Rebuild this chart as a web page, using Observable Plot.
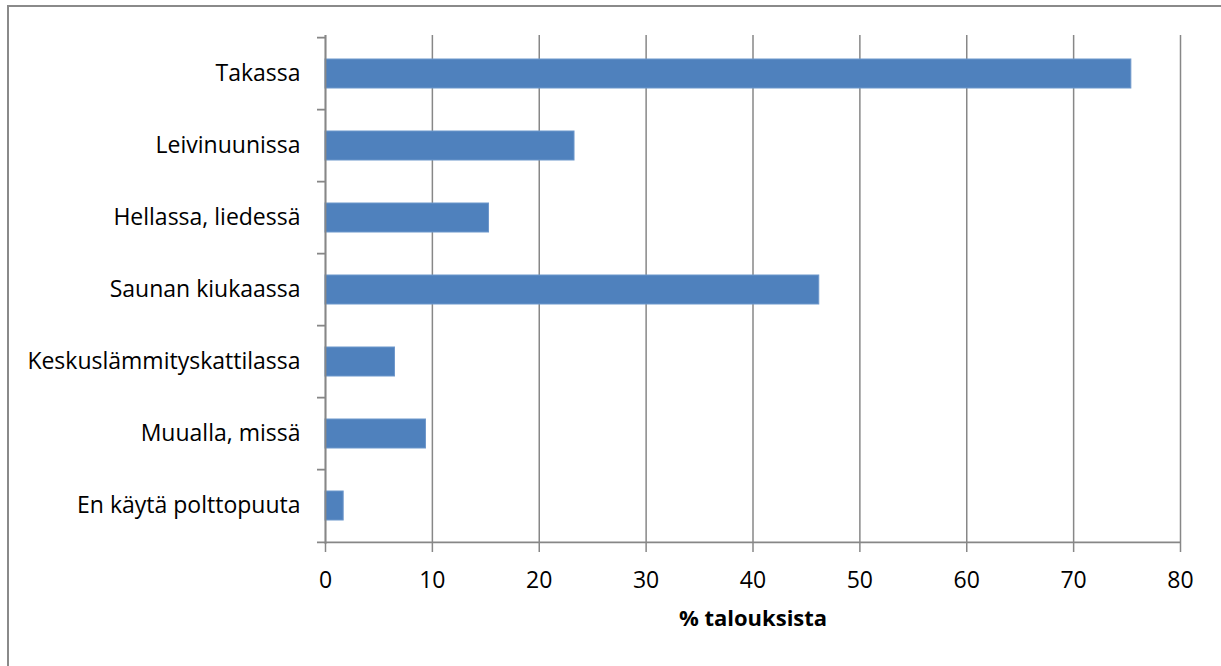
<!DOCTYPE html>
<html>
<head>
<meta charset="utf-8">
<script src="https://cdn.jsdelivr.net/npm/d3@7"></script>
<script src="https://cdn.jsdelivr.net/npm/@observablehq/plot@0.6"></script>
<style>
  html, body { margin: 0; padding: 0; background: #fff; }
  #wrap { position: relative; width: 1221px; height: 666px; overflow: hidden; }
  #border { position: absolute; left: 7px; top: 5px; width: 1300px; height: 700px;
            border-left: 2px solid #8a8a8a; border-top: 2px solid #8a8a8a; pointer-events: none; }
</style>
</head>
<body>
<div id="wrap"><div id="border"></div></div>
<script>
const categories = ["Takassa", "Leivinuunissa", "Hellassa, liedessä", "Saunan kiukaassa", "Keskuslämmityskattilassa", "Muualla, missä", "En käytä polttopuuta"];
const values = [75.4, 23.3, 15.3, 46.2, 6.5, 9.4, 1.7];
const xTicks = [0, 10, 20, 30, 40, 50, 60, 70, 80];
const xLabel = "% talouksista";

const data = categories.map((c, i) => ({cat: c, value: values[i]}));

const W = 1221, H = 666, mT = 35, mB = 122, mL = 325, mR = 41;
const step = (H - mT - mB) / categories.length;
const grey = "#878787";

const chart = Plot.plot({
  width: W, height: H,
  marginLeft: mL, marginRight: mR, marginTop: mT, marginBottom: mB,
  style: {fontFamily: "'Open Sans', sans-serif", fontSize: "23px", color: "#000", background: "transparent", overflow: "visible"},
  x: {domain: [0, 80], ticks: xTicks},
  y: {domain: categories, paddingInner: 0.6, paddingOuter: 0.3},
  marks: [
    Plot.gridX(xTicks, {stroke: grey, strokeOpacity: 1, strokeWidth: 1.5}),
    Plot.barX(data, {x: "value", y: "cat", fill: "#4F81BD", stroke: "#6d97cb", strokeWidth: 1}),
    Plot.ruleX([0], {stroke: grey, strokeWidth: 1.8}),
    Plot.ruleY(categories, {y: d => d, x1: -0.75, x2: 0, dy: -step / 2, stroke: grey, strokeWidth: 1.8}),
    Plot.ruleY([categories[categories.length - 1]], {y: d => d, x1: -0.75, x2: 80, dy: step / 2, stroke: grey, strokeWidth: 1.8}),
    Plot.axisX({ticks: xTicks, tickSize: 8, tickPadding: 19, stroke: grey, strokeWidth: 1.5, strokeOpacity: 1, label: null, fontSize: 23}),
    Plot.axisY({tickSize: 0, tickPadding: 25, label: null, fontSize: 23}),
    Plot.text([xLabel], {x: () => 40, frameAnchor: "bottom", dy: 81, text: d => d, fontWeight: "bold", fontSize: 22, fill: "#000"})
  ]
});
document.getElementById("wrap").appendChild(chart);
chart.style.position = "absolute";
chart.style.left = "0";
chart.style.top = "0";
</script>
</body>
</html>
